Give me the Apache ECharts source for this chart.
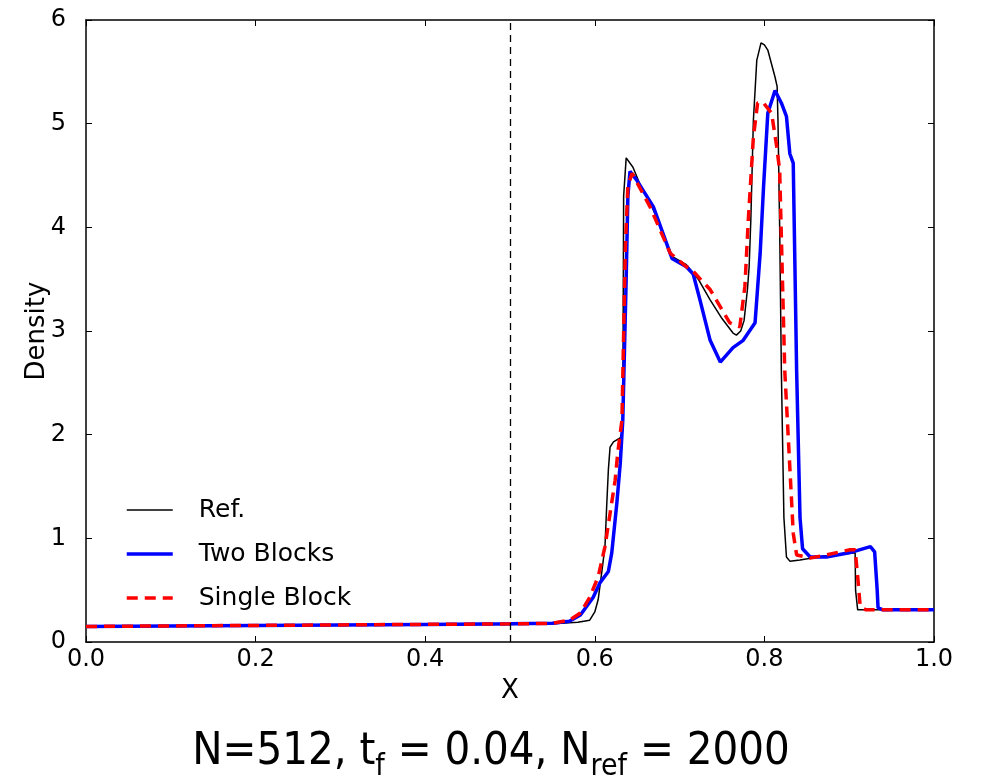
<!DOCTYPE html>
<html><head><meta charset="utf-8">
<script src="https://cdn.jsdelivr.net/npm/echarts@6/dist/echarts.min.js"></script>
<style>html,body{margin:0;padding:0;background:#fff}#c{width:982px;height:779px}</style>
</head><body><div id="c"></div>
<script>
const seriesNames = ['Ref.', 'Two Blocks', 'Single Block'];
const xTicks = [0, 0.2, 0.4, 0.6, 0.8, 1.0];
const yTicks = [0, 1, 2, 3, 4, 5, 6];
const refX = [0, 0.1, 0.2, 0.3, 0.4, 0.5, 0.55, 0.58, 0.594, 0.600, 0.604, 0.608, 0.612, 0.614, 0.616, 0.618, 0.622, 0.630, 0.633, 0.634, 0.637, 0.645, 0.653, 0.663, 0.673, 0.691, 0.708, 0.722, 0.736, 0.750, 0.763, 0.767, 0.772, 0.776, 0.780, 0.782, 0.784, 0.787, 0.791, 0.796, 0.800, 0.804, 0.8125, 0.815, 0.816, 0.818, 0.820, 0.823, 0.826, 0.830, 0.842, 0.870, 0.907, 0.9075, 0.91, 1.0];
const refY = [0.15, 0.155, 0.16, 0.165, 0.17, 0.17, 0.175, 0.19, 0.21, 0.29, 0.41, 0.66, 0.92, 1.31, 1.66, 1.88, 1.93, 1.97, 2.04, 4.3, 4.67, 4.58, 4.42, 4.27, 4.10, 3.72, 3.64, 3.5, 3.30, 3.12, 2.98, 2.96, 3.0, 3.1, 3.4, 3.62, 4.07, 5.03, 5.61, 5.78, 5.76, 5.71, 5.45, 5.36, 5.03, 4.0, 2.62, 1.2, 0.82, 0.78, 0.79, 0.83, 0.86, 0.5, 0.31, 0.31];
const twoX = [0, 0.1, 0.2, 0.3, 0.4, 0.5, 0.55, 0.57, 0.583, 0.598, 0.606, 0.616, 0.62, 0.626, 0.63, 0.633, 0.637, 0.639, 0.6415, 0.649, 0.669, 0.691, 0.708, 0.716, 0.724, 0.736, 0.748, 0.763, 0.775, 0.789, 0.795, 0.799, 0.804, 0.8125, 0.82, 0.826, 0.830, 0.834, 0.838, 0.842, 0.845, 0.854, 0.873, 0.900, 0.925, 0.930, 0.933, 0.934, 0.94, 1.0];
const twoY = [0.15, 0.155, 0.16, 0.165, 0.17, 0.175, 0.18, 0.2, 0.26, 0.43, 0.57, 0.68, 0.86, 1.34, 1.72, 2.14, 3.5, 4.3, 4.54, 4.46, 4.20, 3.70, 3.62, 3.55, 3.30, 2.91, 2.70, 2.84, 2.91, 3.08, 3.75, 4.39, 5.10, 5.32, 5.20, 5.07, 4.71, 4.62, 2.62, 1.2, 0.9, 0.82, 0.82, 0.86, 0.92, 0.87, 0.5, 0.33, 0.31, 0.31];
const singleX = [0, 0.1, 0.2, 0.3, 0.4, 0.5, 0.55, 0.57, 0.583, 0.594, 0.604, 0.612, 0.618, 0.624, 0.627, 0.632, 0.636, 0.639, 0.644, 0.665, 0.689, 0.708, 0.712, 0.736, 0.759, 0.771, 0.777, 0.781, 0.787, 0.792, 0.798, 0.8085, 0.8145, 0.818, 0.824, 0.832, 0.834, 0.838, 0.854, 0.873, 0.901, 0.907, 0.910, 0.913, 0.92, 1.0];
const singleY = [0.15, 0.155, 0.16, 0.165, 0.17, 0.175, 0.18, 0.21, 0.28, 0.43, 0.63, 0.92, 1.24, 1.56, 1.82, 2.14, 3.8, 4.4, 4.52, 4.20, 3.75, 3.62, 3.61, 3.40, 3.08, 3.04, 3.43, 4.07, 4.87, 5.20, 5.21, 5.10, 4.78, 4.55, 2.62, 1.37, 1.05, 0.84, 0.81, 0.84, 0.89, 0.89, 0.63, 0.34, 0.31, 0.31];
const markX = 0.5;

const zip = (xs, ys) => xs.map((x, i) => [x, ys[i]]);
const FONT = 'DejaVu Sans';
const TFONT = 'DejaVu Sans Condensed';
const chart = echarts.init(document.getElementById('c'), null, {renderer: 'canvas'});
const frameAxis = {
  show: true, min: 0, max: 1, interval: 0.2,
  axisLine: {show: true, onZero: false, lineStyle: {color: '#000', width: 1.5}},
  axisTick: {show: true, inside: true, length: 6, lineStyle: {color: '#000', width: 1}},
  splitLine: {show: false}
};
const lineStyles = [
  {color: '#000', width: 1.5},
  {color: '#0000ff', width: 3.5},
  {color: '#ff0000', width: 3.5, type: [11, 7]}
];
chart.setOption({
  animation: false,
  backgroundColor: '#fff',
  grid: {left: 86, right: 48, top: 20, bottom: 137, containLabel: false},
  title: {
    left: 'center', top: 717,
    text: '{a|N=512, t}{s|f}{a| = 0.04, N}{s|ref}{a| = 2000}',
    textStyle: {
      fontWeight: 'normal',
      rich: {
        a: {fontFamily: TFONT, fontWeight: 'normal', fontSize: 45, color: '#000', lineHeight: 60, verticalAlign: 'middle'},
        s: {fontFamily: TFONT, fontWeight: 'normal', fontSize: 30, color: '#000', lineHeight: 16, verticalAlign: 'bottom'}
      }
    }
  },
  legend: {
    orient: 'vertical', left: 120, top: 490,
    itemWidth: 46, itemHeight: 14, itemGap: 14,
    itemStyle: {opacity: 0},
    data: seriesNames.map((n, i) => ({name: n, lineStyle: lineStyles[i]})),
    textStyle: {fontFamily: FONT, fontSize: 25, color: '#000', lineHeight: 30, padding: [0, 0, 0, 21]}
  },
  xAxis: [
    Object.assign({}, frameAxis, {
      type: 'value', position: 'bottom',
      name: 'X', nameLocation: 'middle', nameGap: 36,
      nameTextStyle: {fontFamily: FONT, fontSize: 26, color: '#000'},
      axisLabel: {fontFamily: FONT, fontSize: 24, color: '#000', margin: 6,
        formatter: v => xTicks.some(t => Math.abs(t - v) < 1e-9) ? v.toFixed(1) : ''}
    }),
    Object.assign({}, frameAxis, {type: 'value', position: 'top', axisLabel: {show: false}})
  ],
  yAxis: [
    Object.assign({}, frameAxis, {
      type: 'value', position: 'left', min: 0, max: 6, interval: 1,
      name: 'Density', nameLocation: 'middle', nameGap: 36, nameRotate: 90, nameMoveOverlap: false,
      nameTextStyle: {fontFamily: FONT, fontSize: 26, color: '#000'},
      axisLabel: {fontFamily: FONT, fontSize: 24, color: '#000', margin: 20,
        formatter: v => yTicks.includes(v) ? String(v) : ''}
    }),
    Object.assign({}, frameAxis, {type: 'value', position: 'right', min: 0, max: 6, interval: 1, axisLabel: {show: false}})
  ],
  series: [
    {
      name: seriesNames[0], type: 'line', data: zip(refX, refY), symbol: 'none', showSymbol: false,
      lineStyle: lineStyles[0], itemStyle: {color: '#000'}, z: 2,
      markLine: {
        silent: true, symbol: 'none', label: {show: false},
        lineStyle: {color: '#000', width: 1.3, type: [7, 5]},
        data: [{xAxis: markX}]
      }
    },
    {
      name: seriesNames[1], type: 'line', data: zip(twoX, twoY), symbol: 'none', showSymbol: false,
      lineStyle: lineStyles[1], itemStyle: {color: '#0000ff'}, z: 3
    },
    {
      name: seriesNames[2], type: 'line', data: zip(singleX, singleY), symbol: 'none', showSymbol: false,
      lineStyle: lineStyles[2], itemStyle: {color: '#ff0000'}, z: 4
    }
  ]
});
</script></body></html>
